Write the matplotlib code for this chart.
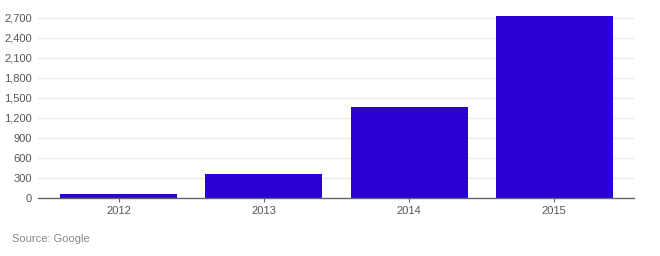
import matplotlib
matplotlib.use("Agg")
import matplotlib.pyplot as plt
from matplotlib.ticker import FuncFormatter

plt.rcParams["font.family"] = ["Liberation Sans", "DejaVu Sans"]

years = ["2012", "2013", "2014", "2015"]
values = [52, 355, 1360, 2730]
yticks = [0, 300, 600, 900, 1200, 1500, 1800, 2100, 2400, 2700]

fig = plt.figure(figsize=(6.6, 2.56), dpi=100)
ax = fig.add_axes([38.3 / 660, 58.5 / 256, 595.7 / 660, 184 / 256])

x = list(range(len(years)))
ax.bar(x, values, width=0.806, color="#2a00d4", zorder=3)

ax.set_xlim(-0.555, 3.55)
ax.set_ylim(0, 2760)
ax.set_yticks(yticks)
ax.yaxis.set_major_formatter(FuncFormatter(lambda v, p: f"{int(v):,}"))
ax.set_xticks(x)
ax.set_xticklabels(years)

ax.grid(axis="y", color="#ebebeb", linewidth=1, zorder=0)
for s in ["top", "right", "left"]:
    ax.spines[s].set_visible(False)
ax.spines["bottom"].set_color("#666666")
ax.spines["bottom"].set_linewidth(1)
ax.spines["bottom"].set_zorder(4)

ax.tick_params(axis="y", length=0, pad=4.5, labelsize=8, labelcolor="#555555")
ax.tick_params(axis="x", length=3, width=0.8, color="#666666", pad=3,
               labelsize=8, labelcolor="#555555")

fig.text(12 / 660, 1 - 239 / 256, "Source: Google", fontsize=8,
         color="#888888", va="center", ha="left")

fig.savefig("out.png", dpi=100)
